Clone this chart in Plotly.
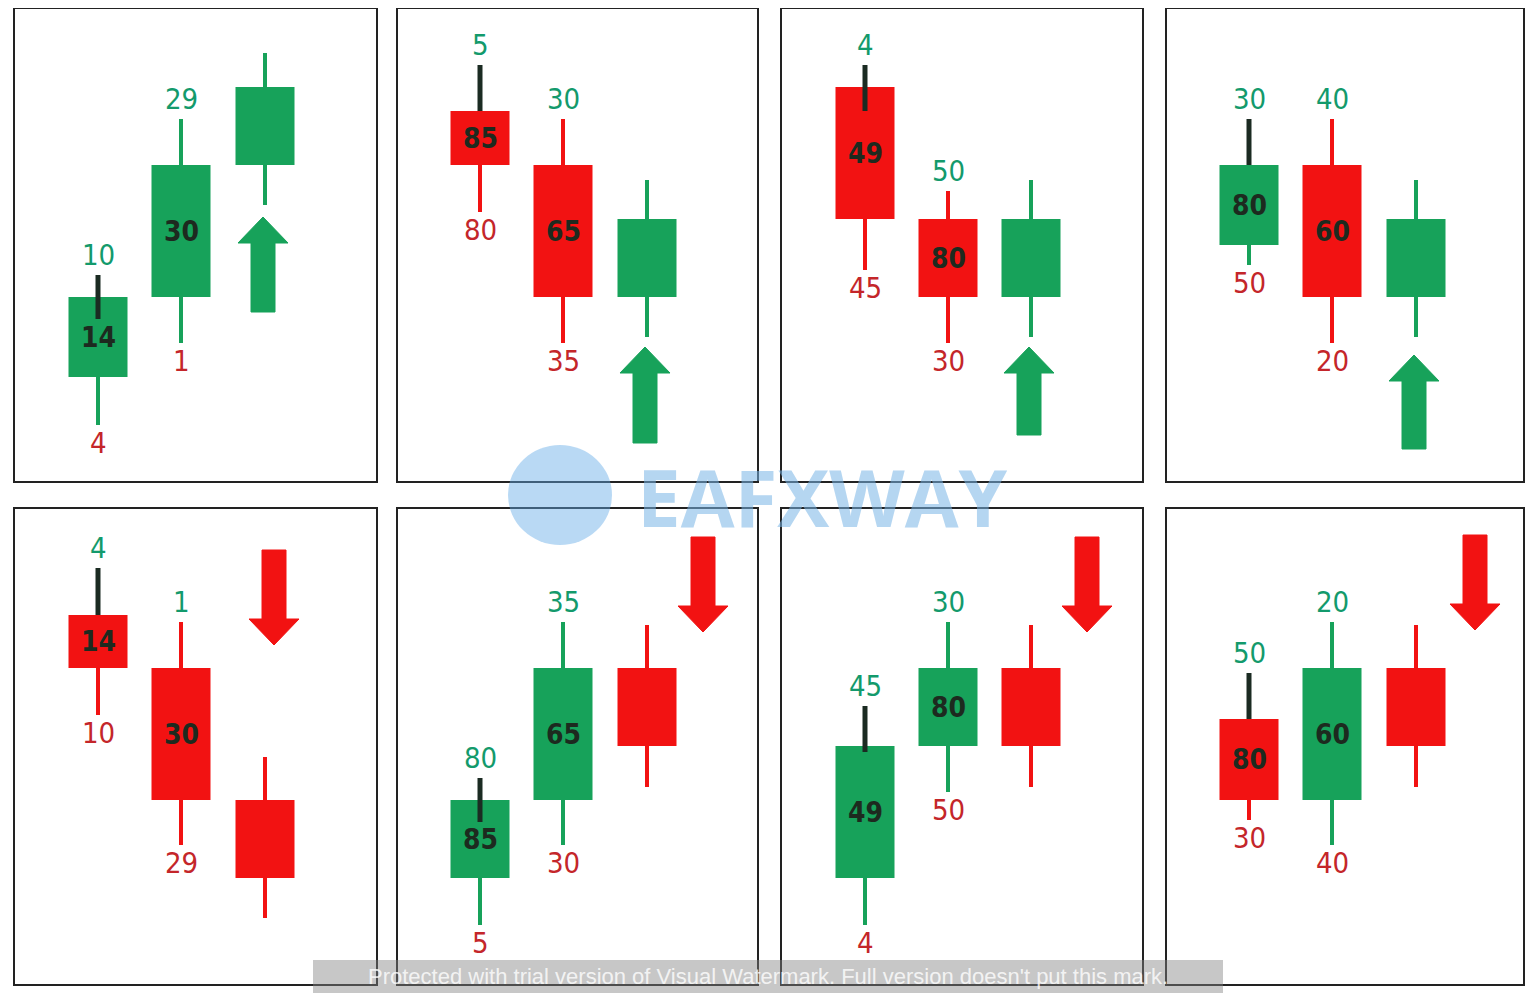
import plotly.graph_objects as go

# candles: centre x, wick top, body top, body bottom, wick bottom, colour, dark upper wick
cx = [98, 181, 265, 480, 563, 647, 865, 948, 1031, 1249, 1332, 1416,
      98, 181, 265, 480, 563, 647, 865, 948, 1031, 1249, 1332, 1416]
wick_top = [275, 119, 53, 65, 119, 180, 65, 191, 180, 119, 119, 180,
            568, 622, 757, 778, 622, 625, 706, 622, 625, 673, 622, 625]
body_top = [297, 165, 87, 111, 165, 219, 87, 219, 219, 165, 165, 219,
            615, 668, 800, 800, 668, 668, 746, 668, 668, 719, 668, 668]
body_bot = [377, 297, 165, 165, 297, 297, 219, 297, 297, 245, 297, 297,
            668, 800, 878, 878, 800, 746, 878, 746, 746, 800, 800, 746]
wick_bot = [425, 343, 205, 212, 343, 337, 270, 343, 337, 265, 343, 337,
            715, 845, 918, 925, 845, 787, 925, 792, 787, 820, 845, 787]
kind = ["g", "g", "g", "r", "r", "g", "r", "r", "g", "g", "r", "g",
        "r", "r", "r", "g", "g", "r", "g", "g", "r", "r", "g", "r"]
dark_wick = [1, 0, 0, 1, 0, 0, 1, 0, 0, 1, 0, 0,
             1, 0, 0, 1, 0, 0, 1, 0, 0, 1, 0, 0]
dark_extra = [22, 0, 0, 0, 0, 0, 24, 0, 0, 0, 0, 0,
              0, 0, 0, 22, 0, 0, 6, 0, 0, 0, 0, 0]
top_lbl = ["10", "29", "", "5", "30", "", "4", "50", "", "30", "40", "",
           "4", "1", "", "80", "35", "", "45", "30", "", "50", "20", ""]
mid_lbl = ["14", "30", "", "85", "65", "", "49", "80", "", "80", "60", "",
           "14", "30", "", "85", "65", "", "49", "80", "", "80", "60", ""]
bot_lbl = ["4", "1", "", "80", "35", "", "45", "30", "", "50", "20", "",
           "10", "29", "", "5", "30", "", "4", "50", "", "30", "40", ""]

# arrows: x, tail y, head y
arrow_x = [263, 645, 1029, 1414, 274, 703, 1087, 1475]
arrow_tail = [312, 443, 435, 449, 550, 537, 537, 535]
arrow_head = [217, 347, 347, 355, 645, 632, 632, 630]

panel_x0 = [14, 397, 781, 1166]
panel_x1 = [377, 758, 1143, 1524]
panel_y0 = [8, 508]
panel_y1 = [482, 985]

GREEN = "#17a25a"
RED = "#f21212"
TXT_G = "#139a6c"
TXT_R = "#c4262a"

fig = go.Figure()

for k, col in (("g", GREEN), ("r", RED)):
    idx = [i for i in range(len(cx)) if kind[i] == k]
    wx, wy = [], []
    for i in idx:
        wx += [cx[i], cx[i], None]
        wy += [wick_top[i], wick_bot[i], None]
    fig.add_trace(go.Scatter(x=wx, y=wy, mode="lines", line=dict(color=col, width=4),
                             hoverinfo="skip"))
    fig.add_trace(go.Bar(x=[cx[i] for i in idx], base=[body_top[i] for i in idx],
                         y=[body_bot[i] - body_top[i] for i in idx], width=59,
                         marker=dict(color=col, line=dict(width=0)), hoverinfo="skip"))

# dark upper wicks
dx, dy = [], []
for i in range(len(cx)):
    if dark_wick[i]:
        dx += [cx[i], cx[i], None]
        dy += [wick_top[i], body_top[i] + dark_extra[i], None]
fig.add_trace(go.Scatter(x=dx, y=dy, mode="lines", line=dict(color="#1b2b22", width=5),
                         hoverinfo="skip"))

# arrows
for x, t, h in zip(arrow_x, arrow_tail, arrow_head):
    s = 1 if t > h else -1
    neck = h + s * 26
    px = [x - 12, x - 12, x - 25, x, x + 25, x + 12, x + 12, x - 12]
    py = [t, neck, neck, h, neck, neck, t, t]
    col = GREEN if s == 1 else RED
    fig.add_trace(go.Scatter(x=px, y=py, mode="lines", fill="toself", fillcolor=col,
                             line=dict(color=col, width=1), hoverinfo="skip"))

font_base = "Liberation Sans Narrow, DejaVu Sans Condensed, sans-serif"
for i in range(len(cx)):
    if top_lbl[i]:
        fig.add_annotation(x=cx[i], y=wick_top[i] - 20, text=top_lbl[i], showarrow=False,
                           font=dict(size=29, color=TXT_G, family=font_base))
    if mid_lbl[i]:
        fig.add_annotation(x=cx[i], y=(body_top[i] + body_bot[i]) / 2, text="<b>" + mid_lbl[i] + "</b>",
                           showarrow=False, font=dict(size=28, color="#1d2a1f", family=font_base))
    if bot_lbl[i]:
        fig.add_annotation(x=cx[i], y=wick_bot[i] + 18, text=bot_lbl[i], showarrow=False,
                           font=dict(size=29, color=TXT_R, family=font_base))

for y0, y1 in zip(panel_y0, panel_y1):
    for x0, x1 in zip(panel_x0, panel_x1):
        fig.add_shape(type="rect", x0=x0, x1=x1, y0=y0, y1=y1,
                      line=dict(color="#222222", width=2))

# watermarks
fig.add_annotation(x=822, y=497, text="<b>EAFXWAY</b>", showarrow=False,
                   font=dict(size=78, color="rgba(120,180,230,0.55)", family="Open Sans"))
fig.add_shape(type="circle", x0=508, x1=612, y0=445, y1=545,
              fillcolor="rgba(100,170,230,0.45)", line=dict(width=0))
fig.add_shape(type="rect", x0=313, x1=1223, y0=960, y1=993,
              fillcolor="rgba(130,130,130,0.45)", line=dict(width=0))
fig.add_annotation(x=768, y=976, text="Protected with trial version of Visual Watermark. Full version doesn't put this mark.",
                   showarrow=False, font=dict(size=22, color="rgba(255,255,255,0.8)", family="Liberation Sans"))

# page body has an 8px margin, shift the ranges to compensate
fig.update_xaxes(range=[8, 1544], visible=False)
fig.update_yaxes(range=[1003, 8], visible=False)
fig.update_layout(width=1536, height=995, margin=dict(l=0, r=0, t=0, b=0),
                  plot_bgcolor="white", paper_bgcolor="white", showlegend=False,
                  barmode="overlay")
fig.write_html("out.html")
